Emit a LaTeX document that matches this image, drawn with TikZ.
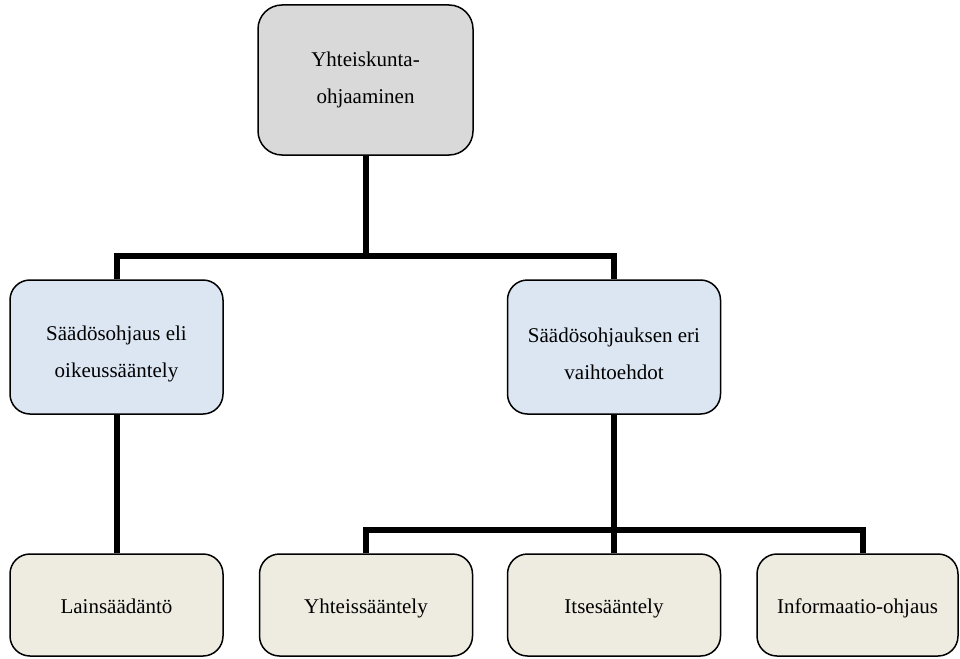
\documentclass[tikz,border=0pt]{standalone}
\usepackage{fontspec}
\setmainfont{Liberation Serif}
\definecolor{topgray}{HTML}{D9D9D9}
\definecolor{midblue}{HTML}{DCE6F2}
\definecolor{lowbeige}{HTML}{EEECE1}
\newcommand{\lowerstrut}{\rule{0pt}{28pt}}
\begin{document}
\begin{tikzpicture}[x=1pt,y=-1pt,
  box/.style={draw=black, line width=1.5pt, rounded corners=20pt, align=center,
    font=\fontsize{21}{37}\selectfont, inner sep=0pt, minimum width=213pt},
  topbox/.style={box, fill=topgray, minimum width=215pt, minimum height=150pt, rounded corners=24pt},
  midbox/.style={box, fill=midblue, minimum height=134pt},
  lowbox/.style={box, fill=lowbeige, minimum height=102pt, text height=17pt, text depth=1pt},
  conn/.style={line width=6pt, line join=miter}]
\useasboundingbox (0,0) rectangle (960,658);

\node[topbox] (top) at (365.5,80) {Yhteiskunta-\\ohjaaminen};
\node[midbox] (m1) at (116.5,347) {\lowerstrut Säädösohjaus eli\\oikeussääntely};
\node[midbox] (m2) at (614,347) {\lowerstrut Säädösohjauksen eri\\vaihtoehdot};
\node[lowbox] (b1) at (116.5,605) {Lainsäädäntö};
\node[lowbox] (b2) at (366,605) {Yhteissääntely};
\node[lowbox] (b3) at (614,605) {Itsesääntely};
\node[lowbox, minimum width=201pt] (b4) at (857.5,605) {Informaatio-ohjaus};

\coordinate (bus1) at (365.5,256);
\coordinate (bus2) at (614,530);

\draw[conn] (top.south) -- (bus1);
\draw[conn] (m1.north) |- (bus1) -| (m2.north);
\draw[conn] (m1.south) -- (b1.north);
\draw[conn] (m2.south) -- (b3.north);
\draw[conn] (b2.north) |- (bus2) -| ([xshift=5.5pt]b4.north);
\end{tikzpicture}
\end{document}
